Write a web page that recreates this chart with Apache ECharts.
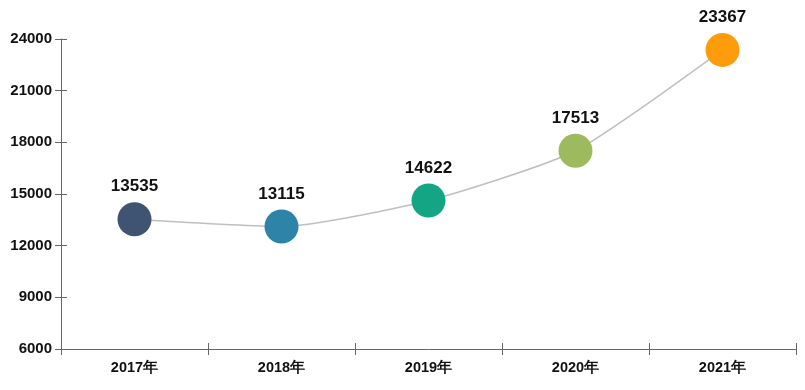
<!DOCTYPE html>
<html><head><meta charset="utf-8">
<script src="https://cdn.jsdelivr.net/npm/echarts@6/dist/echarts.min.js"></script>
<style>html,body{margin:0;padding:0;background:#fff}#c{width:805px;height:390px}</style>
</head><body><div id="c"></div>
<script>
var categories = ['2017年','2018年','2019年','2020年','2021年'];
var values = [13535, 13115, 14622, 17513, 23367];
var dotColors = ['#3F5473','#2E83A8','#14A585','#9DBB5E','#FF9C0C'];
var yMin = 6000, yMax = 24000, yStep = 3000;

var chart = echarts.init(document.getElementById('c'));
var fontFam = '"Liberation Sans", Arial, sans-serif';
var axisLineStyle = {color:'#666', width:1};
chart.setOption({
  animation:false,
  grid:{left:61, right:9, top:39, bottom:41},
  xAxis:[{
    type:'category', data:categories, boundaryGap:true,
    axisLine:{lineStyle:axisLineStyle},
    axisTick:{show:true, length:6, lineStyle:axisLineStyle},
    axisLabel:{color:'#111', fontWeight:'bold', fontSize:14.5, fontFamily:fontFam, margin:11}
  },{
    type:'category', data:categories, boundaryGap:true, position:'bottom',
    axisLine:{show:false},
    axisTick:{show:true, inside:true, length:6, lineStyle:axisLineStyle},
    axisLabel:{show:false}
  }],
  yAxis:[{
    type:'value', min:yMin, max:yMax, interval:yStep,
    axisLine:{show:true, lineStyle:axisLineStyle},
    axisTick:{show:true, length:6, lineStyle:axisLineStyle},
    splitLine:{show:false},
    axisLabel:{color:'#111', fontWeight:'bold', fontSize:15, fontFamily:fontFam, margin:9,
      formatter:function(v){return String(v);}}
  },{
    type:'value', min:yMin, max:yMax, interval:yStep, position:'left',
    axisLine:{show:false},
    axisTick:{show:true, inside:true, length:6, lineStyle:axisLineStyle},
    splitLine:{show:false},
    axisLabel:{show:false}
  }],
  series:[{
    type:'line', data:values.map(function(v,i){return {value:v, itemStyle:{color:dotColors[i]}};}),
    smooth:0.2, symbol:'circle', symbolSize:34,
    lineStyle:{color:'#BFBFBF', width:1.5},
    label:{show:true, position:'top', distance:7, color:'#111', fontWeight:'bold', fontSize:17, fontFamily:fontFam}
  }]
});
</script></body></html>
